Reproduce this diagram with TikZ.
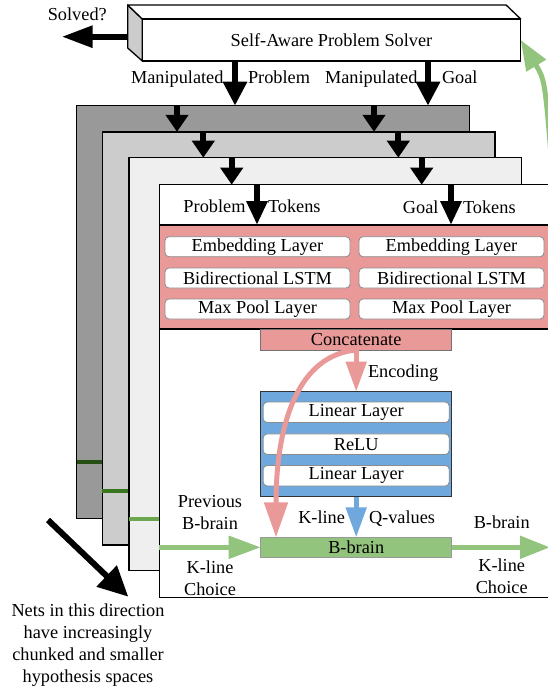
\documentclass[tikz,border=0pt]{standalone}
\usepackage{fontspec}
\setmainfont{Liberation Serif}
\usetikzlibrary{arrows.meta,calc}
\definecolor{redfill}{HTML}{EA9999}
\definecolor{bluefill}{HTML}{6FA8DC}
\definecolor{greenfill}{HTML}{93C47D}
\definecolor{gA}{HTML}{274E13}
\definecolor{gB}{HTML}{38761D}
\definecolor{gC}{HTML}{6AA84F}
\definecolor{layA}{HTML}{999999}
\definecolor{layB}{HTML}{CCCCCC}
\definecolor{layC}{HTML}{EFEFEF}
\begin{document}
\begin{tikzpicture}[x=1pt,y=-1pt,
  every node/.style={font=\fontsize{18.3}{22}\selectfont, inner sep=0pt, outer sep=0pt},
  layer/.style={draw=black, line width=1.3pt, minimum width=392.7pt, minimum height=413pt},
  inbox/.style={draw=black!45, fill=white, rounded corners=4pt, line width=0.8pt, minimum width=185pt, minimum height=20pt},
  binbox/.style={inbox, minimum width=186pt, minimum height=20.5pt},
  blkarrow/.style={line width=6pt, -{Triangle[length=17pt,width=22pt]}},
  toparrow/.style={line width=6pt, -{Triangle[length=24pt,width=23pt]}},
  frontarrow/.style={line width=6pt, -{Triangle[length=24pt,width=20pt]}},
  pinkarrow/.style={draw=redfill, line width=5pt, -{Triangle[length=30pt,width=20pt]}},
  bluearrow/.style={draw=bluefill, line width=5pt, -{Triangle[length=30pt,width=20pt]}},
  greenarrow/.style={draw=greenfill, line width=5pt, -{Triangle[length=32pt,width=22pt]}},
  gline/.style={line width=4pt}
]
\useasboundingbox (0,0) rectangle (548,690);
\clip (0,0) rectangle (548,690);

% x positions of arrows
\coordinate (xs1) at (235,0);
\coordinate (xs2) at (428,0);
\coordinate (xa1) at (177,0);
\coordinate (xa2) at (374,0);
\coordinate (xb1) at (203.3,0);
\coordinate (xb2) at (398.3,0);
\coordinate (xc1) at (231.7,0);
\coordinate (xc2) at (421.7,0);
\coordinate (xd1) at (257,0);
\coordinate (xd2) at (451,0);
\coordinate (xp) at (276,0);

% solver box (3D)
\node[draw=black, fill=white, line width=1.3pt, minimum width=378.4pt, minimum height=42pt] (solver) at (331.5,40) {};
\fill[layB, draw=black, line width=1.3pt, line join=round]
  (solver.north west) -- ++(-14.6,-14) -- ++(0,43) -- (solver.south west) -- cycle;
\fill[white, draw=black, line width=1.3pt, line join=round]
  (solver.north west) -- ++(-14.6,-14) -- ($(solver.north east)+(-14.6,-14)$) -- (solver.north east) -- cycle;
\node[draw=black, fill=white, line width=1.3pt, minimum width=378.4pt, minimum height=42pt] (solverface) at (solver.center) {Self-Aware Problem Solver};

% Solved? arrow
\coordinate (sv) at (127.7,36.7);
\coordinate (svt) at (61.7,36.7);
\draw[line width=6pt, -{Triangle[length=31pt,width=21pt]}] (sv) -- (svt);
\node[anchor=base] (solvedlbl) at (77.3,21) {Solved?};

% stack of layers
\node[layer, fill=layA] (L1) at (273,312.2) {};
\draw[gline, draw=gA] (76.7,462.3) -- (104,462.3);
\node[layer, fill=layB] (L2) at (298.65,338.35) {};
\draw[blkarrow] (L1.north -| xa1) -- (L2.north -| xa1);
\draw[blkarrow] (L1.north -| xa2) -- (L2.north -| xa2);
\draw[gline, draw=gB] (102.3,490.7) -- (131,490.7);
\node[layer, fill=layC] (L3) at (325.35,364.2) {};
\draw[blkarrow] (L2.north -| xb1) -- (L3.north -| xb1);
\draw[blkarrow] (L2.north -| xb2) -- (L3.north -| xb2);
\draw[gline, draw=gC] (129,519) -- (161,519);
\node[layer, fill=white] (L4) at (355.65,391.2) {};
\draw[blkarrow] (L3.north -| xc1) -- (L4.north -| xc1);
\draw[blkarrow] (L3.north -| xc2) -- (L4.north -| xc2);

% arrows from solver
\draw[toparrow] (solverface.south -| xs1) -- (L1.north -| xs1);
\draw[toparrow] (solverface.south -| xs2) -- (L1.north -| xs2);
\node[anchor=base east] (mp) at (223.5,84) {Manipulated};
\node[anchor=base west] (pp) at (248,84) {Problem};
\node[anchor=base east] (mg) at (417.5,84) {Manipulated};
\node[anchor=base west] (gg) at (442,84) {Goal};

% red encoder block
\node[draw=black, fill=redfill, line width=1.2pt, minimum width=392.7pt, minimum height=104pt] (red) at (355.65,277) {};
\draw[frontarrow] (L4.north -| xd1) -- (red.north -| xd1);
\draw[frontarrow] (L4.north -| xd2) -- (red.north -| xd2);
\node[anchor=base east] (pt) at (245.5,212.5) {Problem};
\node[anchor=base west] (pt2) at (268,212.5) {Tokens};
\node[anchor=base east] (gt) at (438.5,213) {Goal};
\node[anchor=base west] (gt2) at (463,213) {Tokens};

\node[inbox] (emb1) at (257.5,246.7) {Embedding Layer};
\node[inbox] (emb2) at (451.5,246.7) {Embedding Layer};
\node[inbox] (lstm1) at (257.5,278) {Bidirectional LSTM};
\node[inbox] (lstm2) at (451.5,278) {Bidirectional LSTM};
\node[inbox] (mpl1) at (257.5,309) {Max Pool Layer};
\node[inbox] (mpl2) at (451.5,309) {Max Pool Layer};

\node[draw=black!55, fill=redfill, line width=0.8pt, minimum width=191pt, minimum height=21pt] (cat) at (356.2,339.5) {Concatenate};

% blue block
\node[draw=black!80, fill=bluefill, line width=1.2pt, minimum width=191pt, minimum height=105pt] (blue) at (356.2,444.2) {};
\node[binbox] (lin1) at (356.2,412.3) {Linear Layer};
\node[binbox] (relu) at (356.2,444.2) {ReLU};
\node[binbox] (lin2) at (356.2,475.7) {Linear Layer};

% B-brain
\node[draw=black!40, fill=greenfill, line width=0.8pt, minimum width=191pt, minimum height=20pt] (bb) at (356.2,547.3) {B-brain};

% connectors in the front layer
\draw[pinkarrow] (cat.south) -- (blue.north);
\node[anchor=base west] (enc) at (368,377) {Encoding};
\draw[draw=redfill, line width=5pt, -{Triangle[length=35pt,width=23pt]}]
  (cat.south) .. controls (300,355) and (276,420) .. (bb.north -| xp);
\draw[bluearrow] (blue.south) -- (bb.north);
\node[anchor=base east] (kl) at (345,523.3) {K-line};
\node[anchor=base west] (qv) at (369,523.3) {Q-values};

\coordinate (gtip) at (550,547.3);
\draw[greenarrow] (L4.west |- bb) -- (bb.west);
\draw[draw=greenfill, line width=5pt, -{Triangle[length=30pt,width=22pt]}] (bb.east) -- (gtip);

\node[anchor=base, align=center] (prev) at (210,529.3) {Previous\\B-brain};
\node[anchor=base, align=center] (klc) at (210,595) {K-line\\Choice};
\node[anchor=base] (nbb) at (501.7,528.3) {B-brain};
\node[anchor=base, align=center] (klc2) at (501.7,593.3) {K-line\\Choice};

% green feedback arrow to solver
\coordinate (gs) at (553,180);
\draw[draw=greenfill, line width=5pt, -{Triangle[length=30pt,width=22pt]}]
  (gs) .. controls (545,80) .. (solverface.east);

% diagonal arrow and note
\coordinate (ds) at (48,520);
\coordinate (dt) at (128.3,596.7);
\draw[line width=6pt, -{Triangle[length=30pt,width=28pt]}] (ds) -- (dt);
\node[anchor=base, align=center] (note) at (88,682.3) {Nets in this direction\\have increasingly\\chunked and smaller\\hypothesis spaces};
\end{tikzpicture}
\end{document}
